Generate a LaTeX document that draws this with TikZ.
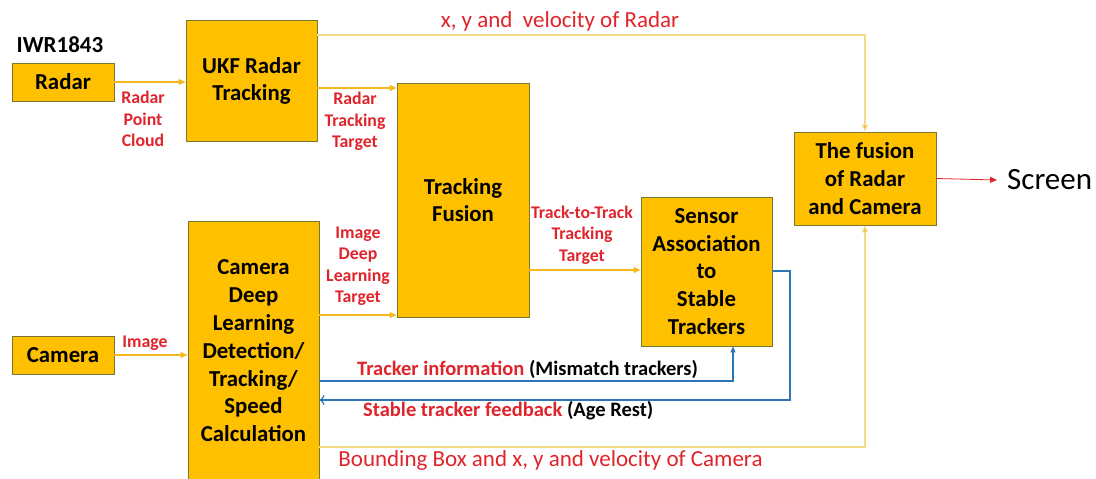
\documentclass[tikz,border=0pt]{standalone}
\usepackage{fontspec}
\setmainfont{Carlito}
\usetikzlibrary{arrows.meta}
\definecolor{boxfill}{HTML}{FFC000}
\definecolor{boxline}{HTML}{76792F}
\definecolor{flow}{HTML}{F4B81C}
\definecolor{paleflow}{HTML}{F3D98A}
\definecolor{lbl}{HTML}{E0242B}
\definecolor{fb}{HTML}{2E75B6}
\tikzset{
  block/.style={draw=boxline, line width=0.9pt, fill=boxfill, align=center,
    inner sep=0pt, font=\bfseries\fontsize{22.8}{27.8}\selectfont},
  flowarrow/.style={draw=flow, line width=1.1pt, -{Triangle[length=7pt,width=6pt]}},
  wide/.style={draw=paleflow, line width=1.1pt, -{Triangle[length=7pt,width=6pt,fill=flow]}},
  fbline/.style={draw=fb, line width=1.2pt},
  tag/.style={text=lbl, align=center, inner sep=0pt, font=\bfseries\fontsize{17.8}{21.5}\selectfont},
  note/.style={text=lbl, inner sep=0pt, font=\fontsize{23}{26}\selectfont},
  fbnote/.style={inner sep=0pt, anchor=west, font=\bfseries\fontsize{20.5}{23}\selectfont},
}
\begin{document}
\begin{tikzpicture}[x=1pt,y=-1pt]
\useasboundingbox (0,0) rectangle (1096,479);

% processing blocks
\node[block, minimum width=102pt, minimum height=38pt] (radar) at (63,82) {Radar};
\node[block, minimum width=102pt, minimum height=38pt] (camera) at (63,355) {Camera};
\node[block, minimum width=131pt, minimum height=121pt] (ukf) at (251.5,81) {UKF Radar\\Tracking};
\node[block, minimum width=132pt, minimum height=234pt] (tf) at (463,200) {Tracking\\Fusion};
\node[block, minimum width=131pt, minimum height=260pt] (cam) at (253.5,351) {Camera\\Deep\\Learning\\Detection/\\Tracking/\\Speed\\Calculation};
\node[block, minimum width=131pt, minimum height=149pt] (sa) at (706.5,271.5) {Sensor\\Association\\to\\Stable\\Trackers};
\node[block, minimum width=142pt, minimum height=93pt] (fus) at (865,178.5) {The fusion\\of Radar\\and Camera};

\node[inner sep=0pt, font=\bfseries\fontsize{23}{26}\selectfont] (iwr) at (60,45) {IWR1843};
\node[inner sep=0pt, anchor=west, font=\fontsize{31}{34}\selectfont] (screen) at (1007,180) {Screen};

% data flow
\draw[flowarrow] (radar.east) -- (radar.east -| ukf.west);
\node[tag] (pcl) at (143,119) {Radar\\Point\\Cloud};

\draw[flowarrow] (ukf.east |- 0,88) -- (tf.west |- 0,88);
\node[tag] (rtt) at (355,121.5) {Radar\\Tracking\\Target};

\draw[flowarrow] (camera.east) -- (camera.east -| cam.west);
\node[tag] (img) at (145,343) {Image};

\draw[flowarrow] (cam.east |- 0,315) -- (tf.west |- 0,315);
\node[tag] (idl) at (358,266) {Image\\Deep\\Learning\\Target};

\draw[flowarrow] (tf.east |- 0,270) -- (sa.west |- 0,270);
\node[tag] (ttt) at (582,235) {Track-to-Track\\Tracking\\Target};

\draw[wide] (ukf.east |- 0,35) -| (fus.north);
\node[note] (xyr) at (560,21) {x, y and\ \ velocity of Radar};

\draw[wide] (cam.east |- 0,447) -| (fus.south);
\node[note] (xyc) at (550.5,460) {Bounding Box and x, y and velocity of Camera};

\draw[draw=lbl, line width=0.8pt, -{Triangle[length=7pt,width=6pt]}] (fus.east) -- ([xshift=-10pt]screen.west);

% tracker feedback loop
\draw[fbline, -{Triangle[length=6pt,width=5pt]}] (cam.east |- 0,381) -| (sa.south -| 733,0);
\node[fbnote] (tinfo) at (357,369) {\textcolor{lbl}{Tracker information} (Mismatch trackers)};

\draw[fbline, -{To[length=5pt,width=10pt]}] (sa.east |- 0,271) -- (790,271) |- (cam.east |- 0,400);
\node[fbnote] (sfb) at (363,411) {\textcolor{lbl}{Stable tracker feedback} (Age Rest)};
\end{tikzpicture}
\end{document}
